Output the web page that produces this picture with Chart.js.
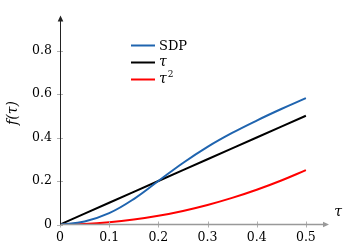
<!DOCTYPE html>
<html>
<head>
<meta charset="utf-8">
<script src="https://cdn.jsdelivr.net/npm/chart.js@4/dist/chart.umd.min.js"></script>
<style>
html,body{margin:0;padding:0;background:#fff;}
#wrap{width:347px;height:247px;position:relative;}
</style>
</head>
<body>
<div id="wrap"><canvas id="c" width="347" height="247"></canvas></div>
<script>
const tauValues = [0, 0.05, 0.1, 0.15, 0.2, 0.25, 0.3, 0.35, 0.4, 0.45, 0.5];
const sdpValues = [0, 0.014, 0.052, 0.117, 0.2, 0.283, 0.357, 0.421, 0.478, 0.531, 0.581];
const linValues = [0, 0.05, 0.1, 0.15, 0.2, 0.25, 0.3, 0.35, 0.4, 0.45, 0.5];
const sqValues = [0, 0.0025, 0.01, 0.0225, 0.04, 0.0625, 0.09, 0.1225, 0.16, 0.2025, 0.25];
const seriesNames = ['SDP', 'τ', 'τ2'];
const xTickValues = [0, 0.1, 0.2, 0.3, 0.4, 0.5];
const yTickValues = [0, 0.2, 0.4, 0.6, 0.8];
const xLabel = 'τ';
const yLabel = 'f(τ)';

const SERIF = '"DejaVu Serif", serif';
const colors = ['rgb(31,100,175)', '#000000', '#ff0000'];

function pts(ys){ return tauValues.map((x,i)=>({x:x, y:ys[i]})); }

const axesPlugin = {
  id: 'axesPlugin',
  afterDraw(chart){
    const ctx = chart.ctx;
    const xs = chart.scales.x, ys = chart.scales.y;
    const a = chart.chartArea;
    const x0 = xs.getPixelForValue(0), y0 = ys.getPixelForValue(0);
    ctx.save();
    ctx.strokeStyle = '#b0b0b0';
    ctx.lineWidth = 1;
    xTickValues.forEach(v=>{
      const px = Math.round(xs.getPixelForValue(v))+0.5;
      ctx.beginPath(); ctx.moveTo(px, y0-3); ctx.lineTo(px, y0+3); ctx.stroke();
    });
    yTickValues.forEach(v=>{
      const py = Math.round(ys.getPixelForValue(v))+0.5;
      ctx.beginPath(); ctx.moveTo(x0-3, py); ctx.lineTo(x0+3, py); ctx.stroke();
    });
    ctx.strokeStyle = '#999999';
    ctx.fillStyle = '#999999';
    ctx.lineWidth = 1.6;
    ctx.beginPath(); ctx.moveTo(x0, y0); ctx.lineTo(a.right-3, y0); ctx.stroke();
    ctx.beginPath(); ctx.moveTo(a.right, y0); ctx.lineTo(a.right-6, y0-2.8); ctx.lineTo(a.right-6, y0+2.8); ctx.closePath(); ctx.fill();
    ctx.strokeStyle = '#222222';
    ctx.fillStyle = '#222222';
    ctx.lineWidth = 1;
    ctx.beginPath(); ctx.moveTo(x0+0.5, y0); ctx.lineTo(x0+0.5, a.top+3); ctx.stroke();
    ctx.beginPath(); ctx.moveTo(x0+0.5, a.top); ctx.lineTo(x0+0.5-2.8, a.top+6); ctx.lineTo(x0+0.5+2.8, a.top+6); ctx.closePath(); ctx.fill();

    ctx.fillStyle = '#000';
    ctx.font = 'italic 14px ' + SERIF;
    ctx.textAlign = 'center';
    ctx.textBaseline = 'middle';
    ctx.fillText(xLabel, 338, 212);
    ctx.save();
    ctx.translate(13, 113);
    ctx.rotate(-Math.PI/2);
    ctx.fillText(yLabel, 0, 0);
    ctx.restore();

    const rows = [45.5, 62.5, 79.5];
    chart.data.datasets.forEach((ds, i)=>{
      const y = rows[i];
      ctx.strokeStyle = ds.borderColor;
      ctx.lineWidth = 2;
      ctx.beginPath(); ctx.moveTo(131, y); ctx.lineTo(155, y); ctx.stroke();
      ctx.fillStyle = '#000';
      ctx.textAlign = 'left';
      ctx.textBaseline = 'middle';
      const name = seriesNames[i];
      if (i === 0) {
        ctx.font = '13px ' + SERIF;
        ctx.fillText(name, 159, y+1);
      } else if (i === 1) {
        ctx.font = 'italic 14px ' + SERIF;
        ctx.fillText(name, 159, y);
      } else {
        ctx.font = 'italic 14px ' + SERIF;
        ctx.fillText(name[0], 159, y);
        const w = ctx.measureText(name[0]).width;
        ctx.font = '9px ' + SERIF;
        ctx.fillText(name.slice(1), 159 + w + 1, y - 5);
      }
    });
    ctx.restore();
  }
};

new Chart(document.getElementById('c'), {
  type: 'line',
  data: {
    datasets: [
      { label: seriesNames[0], data: pts(sdpValues), borderColor: colors[0], borderWidth: 2, pointRadius: 0, tension: 0.4, fill: false },
      { label: seriesNames[1], data: pts(linValues), borderColor: colors[1], borderWidth: 2, pointRadius: 0, fill: false },
      { label: seriesNames[2], data: pts(sqValues), borderColor: colors[2], borderWidth: 2, pointRadius: 0, tension: 0.4, fill: false }
    ]
  },
  options: {
    responsive: false,
    animation: false,
    devicePixelRatio: 1,
    layout: { padding: { left: 0, right: 18, top: 2, bottom: 0 } },
    plugins: { legend: { display: false }, tooltip: { enabled: false } },
    scales: {
      x: {
        type: 'linear', min: 0, max: 0.547,
        grid: { display: false, drawTicks: false },
        border: { display: false },
        afterBuildTicks: s => { s.ticks = xTickValues.map(v=>({value:v})); },
        afterFit: s => { s.height = 22.5; },
        ticks: { color: '#000', padding: 6, maxRotation: 0, autoSkip: false, font: { family: SERIF, size: 12.5 }, callback: v => String(v) }
      },
      y: {
        type: 'linear', min: 0, max: 0.961,
        grid: { display: false, drawTicks: false },
        border: { display: false },
        afterBuildTicks: s => { s.ticks = yTickValues.map(v=>({value:v})); },
        afterFit: s => { s.width = 60; },
        ticks: { color: '#000', padding: 8, autoSkip: false, font: { family: SERIF, size: 12.5 }, callback: v => String(v) }
      }
    }
  },
  plugins: [axesPlugin]
});
</script>
</body>
</html>
